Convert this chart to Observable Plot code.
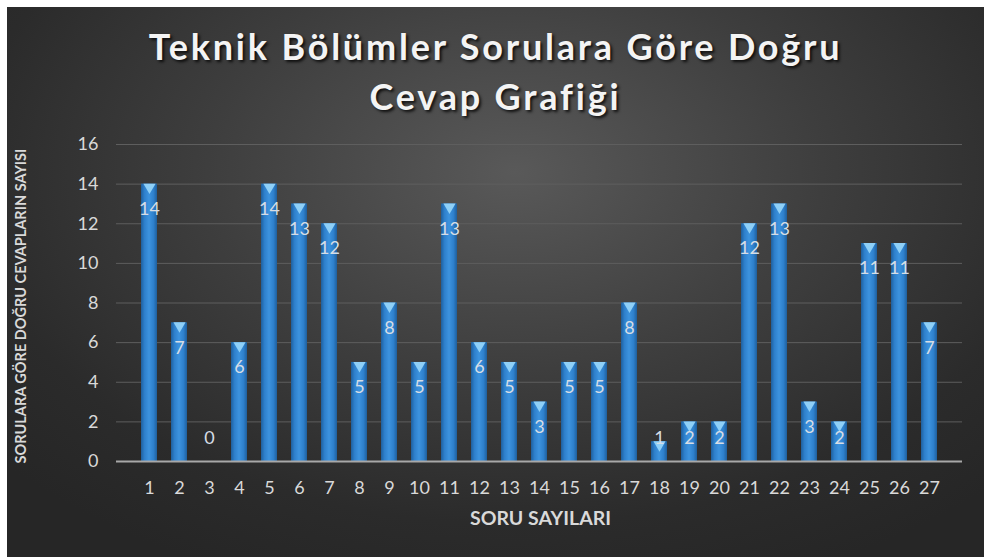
<!DOCTYPE html>
<html><head><meta charset="utf-8">
<script src="https://cdn.jsdelivr.net/npm/d3@7"></script>
<script src="https://cdn.jsdelivr.net/npm/@observablehq/plot@0.6"></script>
<style>
html,body{margin:0;padding:0;background:#fff;}
#wrap{position:absolute;left:7px;top:7px;width:977px;height:550px;overflow:hidden;
 background:radial-gradient(ellipse 70% 80% at 52% 30%, #595959 0%, #3e3e3e 45%, #2b2b2b 80%, #262626 100%);
 font-family:Lato,"Open Sans",sans-serif;}
#title{height:118px;text-align:center;color:#f4f4f4;font-weight:bold;font-size:36px;letter-spacing:2.8px;line-height:50px;padding-top:14px;box-sizing:border-box;
 text-shadow:2px 2px 3px rgba(0,0,0,0.8);}
#chart svg{display:block;}
</style></head>
<body>
<div id="wrap"><div id="title">Teknik Bölümler Sorulara Göre Doğru<br>Cevap Grafiği</div><div id="chart"></div></div>
<script>
const questions = ["1","2","3","4","5","6","7","8","9","10","11","12","13","14","15","16","17","18","19","20","21","22","23","24","25","26","27"];
const correct = [14,7,0,6,14,13,12,5,8,5,13,6,5,3,5,5,8,1,2,2,12,13,3,2,11,11,7];
const yTicks = [0,2,4,6,8,10,12,14,16];
const xLabel = "SORU SAYILARI";
const yLabel = "SORULARA GÖRE DOĞRU CEVAPLARIN SAYISI";

const data = questions.map((q,i)=>({q, v: correct[i]}));

const defs = () => {
  const ns = "http://www.w3.org/2000/svg";
  const d = document.createElementNS(ns,"defs");
  d.innerHTML = `<linearGradient id="barGrad" x1="0" x2="1" y1="0" y2="0">
    <stop offset="0" stop-color="#1f5f9c"/>
    <stop offset="0.22" stop-color="#2e80cc"/>
    <stop offset="0.5" stop-color="#3d93de"/>
    <stop offset="0.78" stop-color="#2e80cc"/>
    <stop offset="1" stop-color="#1f5f9c"/>
  </linearGradient>`;
  return d;
};

const chart = Plot.plot({
  width: 977, height: 432,
  marginLeft: 109, marginRight: 22, marginTop: 19, marginBottom: 96,
  style: {background: "transparent", color: "#d9d9d9", fontFamily: "Lato, 'Open Sans', sans-serif", fontSize: "18px"},
  x: {domain: questions, padding: 0.48, label: null},
  y: {domain: [0,16], label: null},
  marks: [
    defs,
    Plot.ruleY(yTicks.filter(t=>t>0), {stroke: "#5e5e5e", strokeWidth: 1}),
    Plot.axisY({ticks: yTicks, tickSize: 0, tickPadding: 18, fontSize: 18, fill: "#d9d9d9", label: null}),
    Plot.axisX({tickSize: 0, tickPadding: 20, fontSize: 18, fill: "#d9d9d9", label: null}),
    Plot.barY(data, {x: "q", y: "v", fill: "url(#barGrad)"}),
    Plot.dot(data.filter(d=>d.v>0), {x: "q", y: "v", symbol: "triangle", rotate: 180, r: 4.5, dy: 3, fill: "#8fd0f7", stroke: null}),
    Plot.ruleY([0], {stroke: "#a8a8a8", strokeWidth: 2}),
    Plot.text(data, {x: "q", y: d => Math.max(d.v - 1.26, 1.17), text: d => String(d.v), fill: "#d6dde6", fontSize: 18}),
    Plot.text([xLabel], {frameAnchor: "bottom", text: d=>d, fontWeight: "bold", fontSize: 19.5, fill: "#d9d9d9", lineAnchor: "middle"}),
  ]
});
document.getElementById("chart").appendChild(chart);
const svg = d3.select(chart);
svg.selectAll("text").filter(function(){return this.textContent===xLabel;}).attr("transform", null)
  .attr("x", 533).attr("y", 399);
svg.append("text").text(yLabel).attr("transform","translate(15,181) rotate(-90)")
  .attr("text-anchor","middle").attr("dominant-baseline","middle")
  .attr("font-weight","bold").attr("font-size",14.5).attr("fill","#d9d9d9");
</script>
</body></html>
